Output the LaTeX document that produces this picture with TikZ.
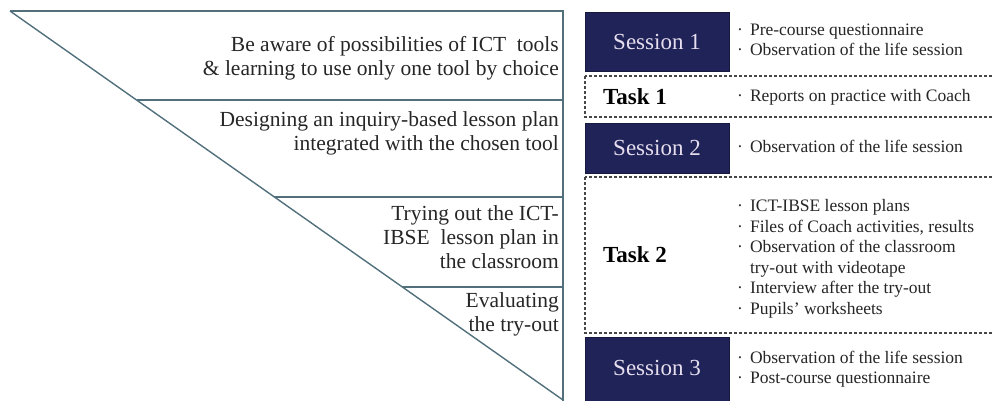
\documentclass[tikz,border=0pt]{standalone}
\usepackage{fontspec}
\setmainfont{Liberation Serif}
\definecolor{sessionblue}{HTML}{1F2358}
\definecolor{framegray}{HTML}{52707C}
\definecolor{inkgray}{HTML}{262626}
\definecolor{sessiontext}{HTML}{E6DEEE}
\begin{document}
\begin{tikzpicture}[x=1pt, y=-1pt,
  frame/.style={draw=framegray, line width=1.4pt},
  phase/.style={anchor=east, align=right, inner sep=0pt, text=inkgray, font=\fontsize{21.5}{24}\selectfont},
  sessionbox/.style={fill=sessionblue, draw=sessionblue!70!black, line width=.8pt},
  sessionlabel/.style={text=sessiontext, font=\fontsize{23}{26}\selectfont},
  taskbox/.style={draw=inkgray!85, line width=1.1pt, dash pattern=on 3pt off 2pt},
  tasklabel/.style={anchor=west, inner sep=0pt, text=black, font=\bfseries\fontsize{23}{26}\selectfont},
  items/.style={anchor=west, align=left, inner sep=0pt, text=inkgray, font=\fontsize{17.5}{20.5}\selectfont}]
\clip (0,0) rectangle (993,401);
% the funnel on the left
\coordinate (apex) at (10,11);
\coordinate (top) at (563,11);
\coordinate (foot) at (563,401);
\coordinate (tip) at (563,400);
\draw[frame] (apex)--(top)--(foot);
\draw[frame] (apex)--(tip);
\foreach \y in {100,197,287}
  \draw[frame] ({10+(\y-11)*1.4216},\y)--(563,\y);
\node[phase] (aware) at (559,58.5) {Be aware of possibilities of ICT\ \ tools\\ \& learning to use only one tool by choice};
\node[phase] (design) at (559,133.5) {Designing an inquiry-based lesson plan\\ integrated with the chosen tool};
\node[phase] (tryout) at (559,237.5) {Trying out the ICT-\\ IBSE\ \ lesson plan in\\ the classroom};
\node[phase] (evaluate) at (559,314.5) {Evaluating\\ the try-out};
% sessions and tasks
\draw[sessionbox] (585,12) rectangle (729,71);
\node[sessionlabel] (s1) at (657,41.5) {Session 1};
\draw[taskbox] (585,76) rectangle (1000,117);
\node[tasklabel] (t1) at (603,97) {Task 1};
\draw[sessionbox] (585,123) rectangle (729,173);
\node[sessionlabel] (s2) at (657,148) {Session 2};
\draw[taskbox] (585,177) rectangle (1000,333);
\node[tasklabel] (t2) at (603,255) {Task 2};
\draw[sessionbox] (585,337) rectangle (729,410);
\node[sessionlabel] (s3) at (657,368) {Session 3};
% data sources
\node[items] (d1) at (737,41.5) {\begin{tabular}{@{}l@{\hspace{7pt}}l@{}}
  · & Pre-course questionnaire\\
  · & Observation of the life session\end{tabular}};
\node[items] (d2) at (737,97) {\begin{tabular}{@{}l@{\hspace{7pt}}l@{}}
  · & Reports on practice with Coach\end{tabular}};
\node[items] (d3) at (737,148) {\begin{tabular}{@{}l@{\hspace{7pt}}l@{}}
  · & Observation of the life session\end{tabular}};
\node[items] (d4) at (737,259) {\begin{tabular}{@{}l@{\hspace{7pt}}l@{}}
  · & ICT-IBSE lesson plans\\
  · & Files of Coach activities, results\\
  · & Observation of the classroom\\
    & try-out with videotape\\
  · & Interview after the try-out\\
  · & Pupils' worksheets\end{tabular}};
\node[items] (d5) at (737,369.5) {\begin{tabular}{@{}l@{\hspace{7pt}}l@{}}
  · & Observation of the life session\\
  · & Post-course questionnaire\end{tabular}};
\end{tikzpicture}
\end{document}
